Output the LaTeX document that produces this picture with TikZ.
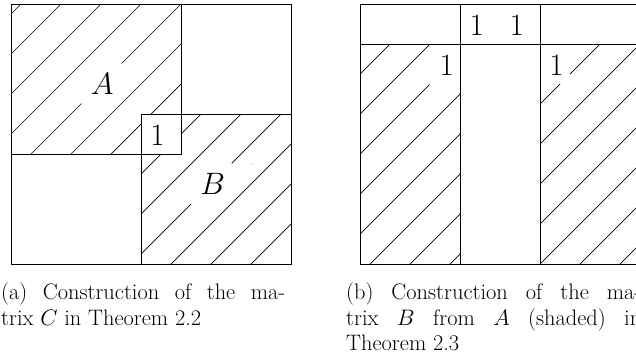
\RequirePackage{fix-cm}
\documentclass[tikz,border=0pt]{standalone}
\begin{document}
\begin{tikzpicture}[x=1pt,y=-1pt,
  frame/.style={line width=1pt, black},
  hatch/.style={line width=0.7pt, black},
  lbl/.style={inner sep=0pt, font=\fontsize{31}{36}\selectfont},
  captext/.style={inner sep=0pt, anchor=base west, font=\fontsize{22.4}{25.5}\selectfont}]
\useasboundingbox (0,0) rectangle (636,356);

% ---------- (a) ----------
% hatching of A
\begin{scope}
  \clip (11,4) rectangle (181,154);
  \foreach \c in {25,65,105,145,225,265,305}
    \draw[hatch] (\c-154,154) -- (\c-4,4);
  \draw[hatch] (31,154) -- (81.5,103.5);
  \draw[hatch] (121.5,63.5) -- (181,4);
\end{scope}
% hatching of B
\begin{scope}
  \clip (141,114) rectangle (291,264);
  \foreach \c in {275,315,355,435,475,515}
    \draw[hatch] (\c-264,264) -- (\c-114,114);
  \draw[hatch] (131,264) -- (191,204);
  \draw[hatch] (231.7,163.3) -- (281,114);
\end{scope}
\fill[white] (141,114) rectangle (181,154);
\fill[black!60] (251.7,164) circle (0.5);
% frames
\draw[frame] (11,4) rectangle (291,264);
\draw[frame] (11,4) rectangle (181,154);
\draw[frame] (141,114) rectangle (291,264);
% labels
\node[lbl] (labA) at (102.2,84.4) {$A$};
\node[lbl] (labB) at (212.7,184.2) {$B$};
\node[lbl] (oneA) at (157.5,135.3) {1};

% ---------- (b) ----------
\begin{scope}
  \clip (360,44) rectangle (460,264);
  \foreach \c in {434,474,554,594,634,674,714}
    \draw[hatch] (\c-264,264) -- (\c-44,44);
  \draw[hatch] (250,264) -- (429.5,84.5);
\end{scope}
\begin{scope}
  \clip (540,44) rectangle (641,264);
  \foreach \c in {684,724,764,804,844,884}
    \draw[hatch] (\c-264,264) -- (\c-44,44);
  \draw[hatch] (540,104) -- (560,84);
  \draw[hatch] (570,74) -- (600,44);
\end{scope}
\draw[frame] (360,4) rectangle (641,264);
\draw[frame] (360,44) -- (641,44);
\draw[frame] (460,4) -- (460,264);
\draw[frame] (540,4) -- (540,264);
\node[lbl] (topone) at (476.7,25.5) {1};
\node[lbl] (toptwo) at (516.7,25.5) {1};
\node[lbl] (leftone) at (446.7,65.6) {1};
\node[lbl] (rightone) at (556.4,65.6) {1};

% ---------- captions ----------
\node[captext] (capa) at (1,299.5) {\parbox[t]{284pt}{(a) Construction of the ma-\linebreak trix $C$ in Theorem 2.2}};
\node[captext] (capb) at (346,299.5) {\parbox[t]{295pt}{(b) Construction of the ma-\linebreak trix $B$ from $A$ (shaded) in\linebreak Theorem 2.3}};
\end{tikzpicture}
\end{document}
